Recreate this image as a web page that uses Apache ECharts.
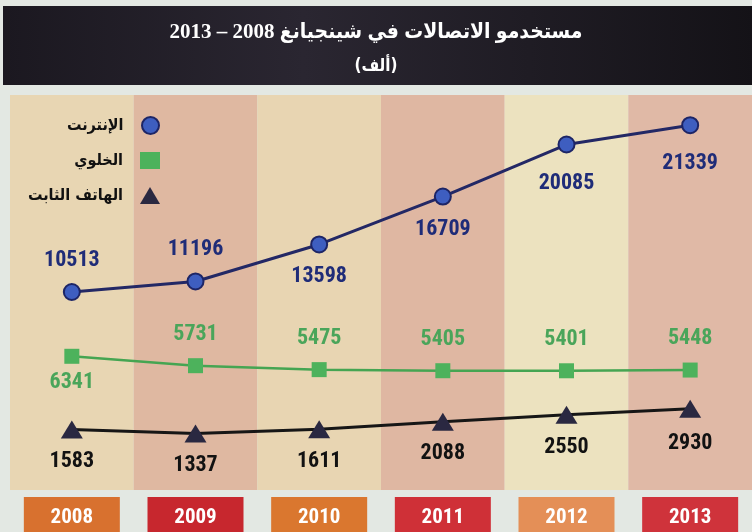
<!DOCTYPE html>
<html>
<head>
<meta charset="utf-8">
<script src="https://cdn.jsdelivr.net/npm/echarts@6/dist/echarts.min.js"></script>
<style>
  html, body { margin: 0; padding: 0; background: #e3e8e3; }
  #chart { width: 752px; height: 532px; }
</style>
</head>
<body>
<div id="chart"></div>
<script>
// Telecom users in Xinjiang, 2008-2013 (thousands)
const years = ['2008', '2009', '2010', '2011', '2012', '2013'];
const internetUsers = [10513, 11196, 13598, 16709, 20085, 21339];
const mobileUsers = [6341, 5731, 5475, 5405, 5401, 5448];
const fixedLineUsers = [1583, 1337, 1611, 2088, 2550, 2930];

const seriesNames = ['الإنترنت', 'الخلوي', 'الهاتف الثابت'];

// which side of the marker each value label sits on, and how far from it
const internetLabelSide = ['top', 'top', 'bottom', 'bottom', 'bottom', 'bottom'];
const internetLabelGap = [12, 12, 12, 13, 19, 18];
const mobileLabelSide = ['bottom', 'top', 'top', 'top', 'top', 'top'];
const mobileLabelGap = [8, 13, 13, 13, 13, 13];
const fixedLabelSide = ['bottom', 'bottom', 'bottom', 'bottom', 'bottom', 'bottom'];
const fixedLabelGap = [12, 12, 12, 12, 13, 15];

const columnColors = ['#e8d6b3', '#dfb8a1', '#e8d5b2', '#dfb7a2', '#ece2bf', '#e0b9a6'];
const yearBoxColors = ['#d8712f', '#c7272e', '#da772f', '#cf3037', '#e48f57', '#cf333b'];

const numFont = '"Roboto Condensed", "Liberation Sans Narrow", "DejaVu Sans Condensed", sans-serif';
const arabicFont = '"DejaVu Sans Condensed", "DejaVu Sans", sans-serif';

function withLabels(values, sides, gaps) {
  return values.map((v, i) => ({
    value: v,
    label: { position: sides[i], distance: gaps[i] }
  }));
}

const yearRich = {};
years.forEach((y, i) => {
  yearRich['y' + i] = {
    backgroundColor: yearBoxColors[i],
    color: '#ffffff',
    fontFamily: numFont,
    fontWeight: 'bold',
    fontSize: 21,
    width: 96,
    height: 42,
    lineHeight: 42,
    align: 'center'
  };
});

const chart = echarts.init(document.getElementById('chart'));

const legendBase = {
  orient: 'vertical',
  align: 'right',
  right: 587,
  itemWidth: 20,
  itemHeight: 17,
  textStyle: {
    color: '#111111',
    fontSize: 16,
    fontWeight: 'bold',
    fontFamily: arabicFont,
    padding: [0, 12, 0, 0]
  },
  selectedMode: false
};

chart.setOption({
  backgroundColor: '#e3e8e3',
  animation: false,
  graphic: [{
    type: 'rect',
    shape: { x: 3, y: 6, width: 752, height: 79 },
    style: {
      fill: new echarts.graphic.LinearGradient(0, 0, 1, 0, [
        { offset: 0, color: '#1b1820' },
        { offset: 0.4, color: '#2a2631' },
        { offset: 1, color: '#141217' }
      ])
    },
    z: -1
  }],
  title: {
    text: 'مستخدمو الاتصالات في شينجيانغ 2008 – 2013',
    subtext: '(ألف)',
    left: 'center',
    top: 17,
    itemGap: 15,
    textStyle: {
      color: '#ffffff',
      fontSize: 21,
      fontWeight: 'bold',
      fontFamily: '"Liberation Serif", ' + arabicFont
    },
    subtextStyle: {
      color: '#ffffff',
      fontSize: 17,
      fontWeight: 'bold',
      fontFamily: arabicFont
    }
  },
  legend: [
    Object.assign({}, legendBase, { top: 111, data: [{ name: seriesNames[0], icon: 'circle' }] }),
    Object.assign({}, legendBase, { top: 147, data: [{ name: seriesNames[1], icon: 'rect' }] }),
    Object.assign({}, legendBase, { top: 182, data: [{ name: seriesNames[2], icon: 'triangle' }] })
  ],
  grid: [
    { left: 10, right: 0, top: 115, bottom: 78, outerBoundsMode: 'none' },
    { left: 10, right: 0, top: 95, bottom: 42, outerBoundsMode: 'none' }
  ],
  xAxis: [
    {
      gridIndex: 0, type: 'category', data: years, show: false
    },
    {
      gridIndex: 1, type: 'category', data: years,
      axisLine: { show: false },
      axisTick: { show: false },
      splitArea: { show: true, interval: 0, areaStyle: { color: columnColors } },
      axisLabel: {
        interval: 0,
        margin: 7,
        formatter: (val, idx) => '{y' + idx + '|' + val + '}',
        rich: yearRich
      }
    }
  ],
  yAxis: [
    { gridIndex: 0, type: 'value', min: 0, max: 22000, show: false },
    { gridIndex: 1, type: 'value', min: 0, max: 1, show: false }
  ],
  series: [
    {
      name: seriesNames[0],
      type: 'line',
      xAxisIndex: 0, yAxisIndex: 0,
      data: withLabels(internetUsers, internetLabelSide, internetLabelGap),
      symbol: 'circle',
      symbolSize: 16,
      lineStyle: { color: '#232865', width: 3 },
      itemStyle: { color: '#3e5ec0', borderColor: '#1d2566', borderWidth: 2 },
      label: {
        show: true,
        color: '#1f2c78',
        fontFamily: numFont,
        fontWeight: 'bold',
        fontSize: 22
      }
    },
    {
      name: seriesNames[1],
      type: 'line',
      xAxisIndex: 0, yAxisIndex: 0,
      data: withLabels(mobileUsers, mobileLabelSide, mobileLabelGap),
      symbol: 'rect',
      symbolSize: 15,
      lineStyle: { color: '#45a552', width: 2.5 },
      itemStyle: { color: '#4db25c' },
      label: {
        show: true,
        color: '#4aa55a',
        fontFamily: numFont,
        fontWeight: 'bold',
        fontSize: 22
      }
    },
    {
      name: seriesNames[2],
      type: 'line',
      xAxisIndex: 0, yAxisIndex: 0,
      data: withLabels(fixedLineUsers, fixedLabelSide, fixedLabelGap),
      symbol: 'triangle',
      symbolSize: [22, 18],
      lineStyle: { color: '#161616', width: 3 },
      itemStyle: { color: '#2a2841' },
      label: {
        show: true,
        color: '#121212',
        fontFamily: numFont,
        fontWeight: 'bold',
        fontSize: 22
      }
    }
  ]
});
</script>
</body>
</html>
